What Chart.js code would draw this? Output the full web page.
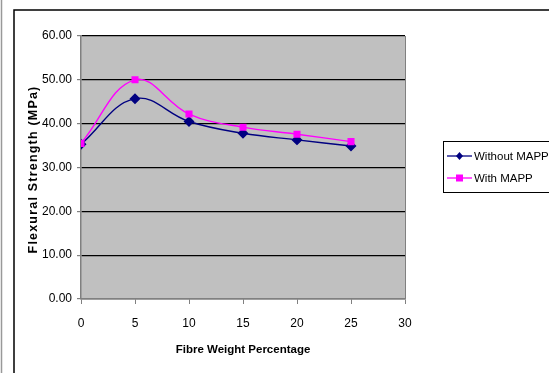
<!DOCTYPE html>
<html>
<head>
<meta charset="utf-8">
<script src="https://cdn.jsdelivr.net/npm/chart.js@4.4.1/dist/chart.umd.min.js"></script>
<style>
  html, body { margin: 0; padding: 0; background: #fff; }
  #wrap { width: 549px; height: 373px; position: relative; }
</style>
</head>
<body>
<div id="wrap"><canvas id="myChart" width="549" height="373"></canvas></div>
<script>
var fibreWeight = [0, 5, 10, 15, 20, 25];
var withoutMapp = [35.3, 45.7, 40.5, 37.8, 36.3, 34.9];
var withMapp = [35.5, 50.0, 42.2, 39.2, 37.6, 35.9];
var seriesNames = ['Without MAPP', 'With MAPP'];
var xTicks = [0, 5, 10, 15, 20, 25, 30];
var yTicks = [0, 10, 20, 30, 40, 50, 60];
var yTitle = 'Flexural Strength (MPa)';

var fontFamily = "'Liberation Sans', Arial, sans-serif";

function toPoints(ys) {
    var pts = [];
    for (var i = 0; i < fibreWeight.length; i++) {
        pts.push({x: fibreWeight[i], y: ys[i]});
    }
    return pts;
}

// grey plot area, frame lines, spaced-out y title and the boxed legend
var decor = {
    id: 'decor',
    beforeDraw: function(chart) {
        var c = chart.ctx, a = chart.chartArea;
        c.save();
        c.fillStyle = '#c0c0c0';
        c.fillRect(a.left, a.top, a.right - a.left, a.bottom - a.top);
        c.restore();
    },
    beforeDatasetsDraw: function(chart) {
        var c = chart.ctx, a = chart.chartArea;
        c.save();
        c.strokeStyle = '#808080';
        c.lineWidth = 1;
        c.beginPath();
        c.moveTo(Math.round(a.right) + 0.5, a.top);
        c.lineTo(Math.round(a.right) + 0.5, a.bottom);
        c.stroke();
        c.restore();
    },
    afterDraw: function(chart) {
        var c = chart.ctx, a = chart.chartArea;
        c.save();
        // outer frame
        c.strokeStyle = '#999';
        c.lineWidth = 1.5;
        c.beginPath();
        c.moveTo(1.5, 0);
        c.lineTo(1.5, 373);
        c.stroke();
        c.strokeStyle = '#000';
        c.beginPath();
        c.moveTo(14, 373);
        c.lineTo(14, 10);
        c.lineTo(549, 10);
        c.stroke();

        // y axis title
        c.save();
        c.translate(34, (a.top + a.bottom) / 2 + 2);
        c.rotate(-Math.PI / 2);
        c.fillStyle = '#000';
        c.font = 'bold 12.5px ' + fontFamily;
        c.letterSpacing = '1.2px';
        c.textAlign = 'center';
        c.textBaseline = 'middle';
        c.fillText(yTitle, 0, 0);
        c.restore();

        // legend
        c.strokeStyle = '#000';
        c.lineWidth = 1;
        c.strokeRect(443.5, 141.5, 120, 51);
        c.font = '11.5px ' + fontFamily;
        c.textBaseline = 'middle';
        c.textAlign = 'left';
        var rows = [156, 178];
        chart.data.datasets.forEach(function(ds, i) {
            var y = rows[i];
            c.strokeStyle = ds.borderColor;
            c.lineWidth = 1.3;
            c.beginPath();
            c.moveTo(447, y);
            c.lineTo(472, y);
            c.stroke();
            c.fillStyle = ds.pointBackgroundColor;
            c.beginPath();
            if (ds.pointStyle === 'rectRot') {
                c.moveTo(459.5, y - 4);
                c.lineTo(463, y);
                c.lineTo(459.5, y + 4);
                c.lineTo(456, y);
            } else {
                c.rect(456, y - 3.5, 7, 7);
            }
            c.closePath();
            c.fill();
            c.fillStyle = '#000';
            c.fillText(ds.label, 474, y + 0.5);
        });
        c.restore();
    }
};

var ctx = document.getElementById('myChart');
var myChart = new Chart(ctx, {
    type: 'line',
    data: {
        datasets: [{
            label: seriesNames[0],
            data: toPoints(withoutMapp),
            order: 1,
            borderColor: '#000080',
            borderWidth: 1.4,
            pointStyle: 'rectRot',
            pointRadius: 4.5,
            pointBackgroundColor: '#000080',
            pointBorderColor: '#000080',
            tension: 0.4
        }, {
            label: seriesNames[1],
            data: toPoints(withMapp),
            order: 0,
            borderColor: '#ff00ff',
            borderWidth: 1.4,
            pointStyle: 'rect',
            pointRadius: 4,
            pointBackgroundColor: '#ff00ff',
            pointBorderColor: '#ff00ff',
            tension: 0.4
        }]
    },
    options: {
        responsive: false,
        animation: false,
        layout: { padding: { left: 20, right: 144, top: 36, bottom: 0 } },
        plugins: {
            legend: { display: false },
            tooltip: { enabled: false }
        },
        scales: {
            x: {
                type: 'linear',
                min: 0,
                max: 30,
                afterBuildTicks: function(axis) {
                    axis.ticks = xTicks.map(function(v) { return {value: v}; });
                },
                afterFit: function(axis) { axis.height = 74; },
                border: { color: '#808080', width: 1.5 },
                grid: { drawOnChartArea: false, tickLength: 5, tickColor: '#808080' },
                ticks: {
                    color: '#000',
                    padding: 12,
                    maxRotation: 0,
                    font: { family: fontFamily, size: 12 }
                },
                title: {
                    display: true,
                    text: 'Fibre Weight Percentage',
                    color: '#000',
                    padding: { top: 4, bottom: 16 },
                    font: { family: fontFamily, size: 11.5, weight: 'bold' }
                }
            },
            y: {
                min: 0,
                max: 60,
                afterBuildTicks: function(axis) {
                    axis.ticks = yTicks.map(function(v) { return {value: v}; });
                },
                afterFit: function(axis) { axis.width = 61; },
                border: { color: '#808080', width: 1.5 },
                grid: { color: '#000', lineWidth: 1.2, tickLength: 4, tickColor: '#808080' },
                ticks: {
                    color: '#000',
                    padding: 5,
                    font: { family: fontFamily, size: 12 },
                    callback: function(v) { return v.toFixed(2); }
                }
            }
        }
    },
    plugins: [decor]
});
</script>
</body>
</html>
